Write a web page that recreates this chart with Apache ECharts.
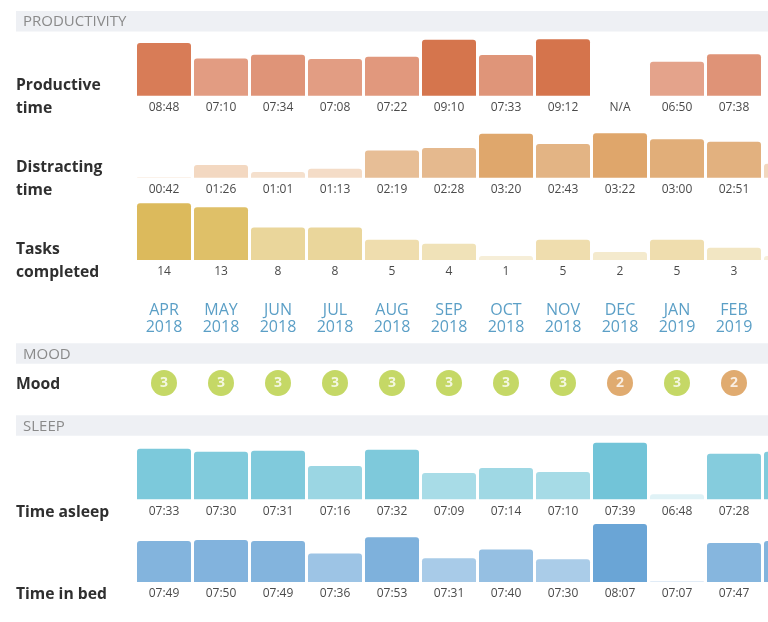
<!DOCTYPE html>
<html>
<head>
<meta charset="utf-8">
<title>Monthly report</title>
<script src="https://cdn.jsdelivr.net/npm/echarts/dist/echarts.min.js"></script>
<style>
  html, body { margin: 0; padding: 0; background: #fff; }
  #chart { width: 768px; height: 622px; }
</style>
</head>
<body>
<div id="chart"></div>
<script>
// months shown along the top of the report (last one is cut off at the right edge)
var months = ['APR\n2018', 'MAY\n2018', 'JUN\n2018', 'JUL\n2018', 'AUG\n2018', 'SEP\n2018',
              'OCT\n2018', 'NOV\n2018', 'DEC\n2018', 'JAN\n2019', 'FEB\n2019', 'MAR\n2019'];

var productiveTime  = ['08:48', '07:10', '07:34', '07:08', '07:22', '09:10', '07:33', '09:12', 'N/A', '06:50', '07:38', 'N/A'];
var distractingTime = ['00:42', '01:26', '01:01', '01:13', '02:19', '02:28', '03:20', '02:43', '03:22', '03:00', '02:51', '01:31'];
var tasksCompleted  = [14, 13, 8, 8, 5, 4, 1, 5, 2, 5, 3, 1];
var moodScores      = [3, 3, 3, 3, 3, 3, 3, 3, 2, 3, 2, null];
var timeAsleep      = ['07:33', '07:30', '07:31', '07:16', '07:32', '07:09', '07:14', '07:10', '07:39', '06:48', '07:28', '07:30'];
var timeInBed       = ['07:49', '07:50', '07:49', '07:36', '07:53', '07:31', '07:40', '07:30', '08:07', '07:07', '07:47', '07:49'];

var FONT = '"Open Sans", "Noto Sans", sans-serif';
var GRID_LEFT = 135.5;
// 57px per month; the 12th column runs past the right edge
var GRID_RIGHT = 768 - GRID_LEFT - 57 * months.length;

var toMinutes = function(str){
	if (str === 'N/A') return null;
	var p = str.split(':');
	return parseInt(p[0], 10) * 60 + parseInt(p[1], 10);
};

// one bar row per metric
var rows = [
	{labels: productiveTime, values: productiveTime.map(toMinutes), bottom: 95.7, height: 60, min: 195, max: 575,
	 colorMin: 400, colorMax: 552, colors: ['#e5a68f', '#dd8d6f', '#d5744c'], stub: '#f9ddd4'},
	{labels: distractingTime, values: distractingTime.map(toMinutes), bottom: 177.7, height: 50, min: 40, max: 222,
	 colorMin: 40, colorMax: 202, colors: ['#f7e6d7', '#f2d6bd', '#e5b98e', '#dfa66b']},
	{labels: tasksCompleted.map(String), values: tasksCompleted, bottom: 260, height: 60, min: 0, max: 14.8,
	 colorMin: 1, colorMax: 14, colors: ['#f6eed8', '#eedcaa', '#e8d292', '#dcba5c']},
	{labels: timeAsleep, values: timeAsleep.map(toMinutes), bottom: 499.3, height: 60, min: 403, max: 462.4,
	 colorMin: 408, colorMax: 459, colors: ['#e0f2f6', '#b0dfe9', '#8fd1e0', '#72c4d8']},
	{labels: timeInBed, values: timeInBed.map(toMinutes), bottom: 582, height: 60, min: 426, max: 489,
	 colorMin: 427, colorMax: 487, colors: ['#e1ecf7', '#b0d0ea', '#86b6de', '#6aa5d6']}
];

var grid = [], xAxis = [], yAxis = [], series = [], visualMap = [];

var hiddenY = function(idx, min, max){
	return {gridIndex: idx, type: 'value', min: min, max: max, show: false, splitLine: {show: false}};
};
var bandGrid = function(top, height){
	// outerBoundsMode none: let the last column run off the canvas instead of squeezing
	return {left: GRID_LEFT, right: GRID_RIGHT, top: top, height: height, outerBoundsMode: 'none', containLabel: false};
};

rows.forEach(function(row, i){
	var labels = row.labels;
	grid.push(bandGrid(row.bottom - row.height, row.height));
	xAxis.push({
		gridIndex: i, type: 'category', data: months,
		axisLine: {show: false}, axisTick: {show: false},
		axisLabel: {interval: 0, margin: 6, color: '#4a4a4a', fontSize: 12, fontFamily: FONT,
			formatter: function(v, idx){ return labels[idx]; }}
	});
	yAxis.push(hiddenY(i, row.min, row.max));
	visualMap.push({
		type: 'continuous', show: false, seriesIndex: series.length,
		min: row.colorMin, max: row.colorMax, inRange: {color: row.colors}
	});
	series.push({
		type: 'bar', xAxisIndex: i, yAxisIndex: i, data: row.values,
		barWidth: 54, barMinHeight: 3, silent: true,
		itemStyle: {borderRadius: [3, 3, 0, 0]}
	});
	if (row.stub){
		// faint placeholder for months without data
		series.push({
			type: 'bar', xAxisIndex: i, yAxisIndex: i, barGap: '-100%', barWidth: 54, barMinHeight: 2, silent: true,
			data: row.values.map(function(v){ return v == null ? row.min : null; }),
			itemStyle: {color: row.stub, borderRadius: [2, 2, 0, 0]}
		});
	}
});

// month labels
var mi = grid.length;
grid.push(bandGrid(299, 1));
xAxis.push({
	gridIndex: mi, type: 'category', data: months,
	axisLine: {show: false}, axisTick: {show: false},
	axisLabel: {interval: 0, margin: 2, color: '#5b9fc6', fontSize: 16, lineHeight: 17, fontFamily: FONT}
});
yAxis.push(hiddenY(mi, 0, 1));

// mood badges
var gi = grid.length;
grid.push(bandGrid(373, 20));
xAxis.push({gridIndex: gi, type: 'category', data: months, show: false});
yAxis.push(hiddenY(gi, -1, 1));
series.push({
	type: 'scatter', xAxisIndex: gi, yAxisIndex: gi, symbol: 'circle', symbolSize: 26, silent: true,
	data: moodScores.map(function(m, idx){
		if (m == null) return null;
		return {value: [idx, 0], mood: m, itemStyle: {color: m >= 3 ? '#b6ce40' : '#d8964c'}};
	}),
	label: {show: true, position: 'inside', color: '#fff', fontSize: 14, fontWeight: 'bold', fontFamily: FONT,
		formatter: function(p){ return p.data.mood; }}
});

var header = function(text, y){
	return [
		{type: 'rect', shape: {x: 16, y: y, width: 760, height: 20.5}, style: {fill: '#eef0f4'}, silent: true},
		{type: 'text', x: 23, y: y + 11, silent: true,
		 style: {text: text, fill: '#8a8a8a', fontSize: 15, fontFamily: FONT, verticalAlign: 'middle'}}
	];
};
var rowLabel = function(text, yCenter){
	return {type: 'text', x: 16, y: yCenter - 10, silent: true,
		style: {text: text, fill: '#2f2f2f', fontSize: 15.7, fontWeight: 'bold', fontFamily: FONT,
			lineHeight: 23, verticalAlign: 'top'}};
};

var graphic = [].concat(
	header('PRODUCTIVITY', 11),
	header('MOOD', 343.3),
	header('SLEEP', 415.3),
	[
		rowLabel('Productive\ntime', 84),
		rowLabel('Distracting\ntime', 166),
		rowLabel('Tasks\ncompleted', 248),
		rowLabel('Mood', 383),
		rowLabel('Time asleep', 511),
		rowLabel('Time in bed', 593)
	]
);

var chart = echarts.init(document.getElementById('chart'), null, {renderer: 'canvas'});
chart.setOption({
	animation: false,
	backgroundColor: '#ffffff',
	textStyle: {fontFamily: FONT},
	grid: grid,
	xAxis: xAxis,
	yAxis: yAxis,
	visualMap: visualMap,
	series: series,
	graphic: graphic
});
</script>
</body>
</html>
